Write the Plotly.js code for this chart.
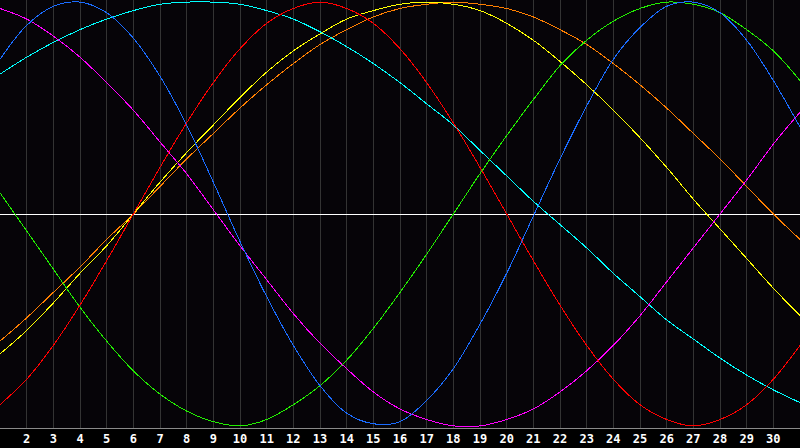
<!DOCTYPE html>
<html>
<head>
<meta charset="utf-8">
<script src="https://cdn.plot.ly/plotly-3.0.1.min.js"></script>
<style>
  html, body { margin: 0; padding: 0; background: #000; }
  #chart { width: 800px; height: 448px; }
  /* old-style 1px hard lines, no smoothing */
  #chart .gridlayer path,
  #chart .zerolinelayer path,
  #chart .shapelayer path,
  #chart .scatterlayer path { shape-rendering: crispEdges; }
</style>
</head>
<body>
<div id="chart"></div>
<script>
/**
 * Biorhythm-style cycle chart: seven cycles over one month, in percent (-100..100).
 */
var CycleChart = (function () {
  'use strict';

  var days = [1, 2, 3, 4, 5, 6, 7, 8, 9, 10, 11, 12, 13, 14, 15, 16,
    17, 18, 19, 20, 21, 22, 23, 24, 25, 26, 27, 28, 29, 30, 31];

  var tickDays = [2, 3, 4, 5, 6, 7, 8, 9, 10, 11, 12, 13, 14, 15, 16,
    17, 18, 19, 20, 21, 22, 23, 24, 25, 26, 27, 28, 29, 30];
  var tickLabels = tickDays.map(String);

  var markDay = 16;

  var red = [-90, -78, -62, -43, -22, 0, 22, 43, 62, 78, 90, 97, 100, 97, 90, 78,
    62, 43, 22, 0, -22, -43, -62, -78, -90, -97, -100, -97, -90, -78, -62];
  var green = [10, -8, -26, -44, -60, -74, -85, -93, -98, -100, -97, -90, -81, -69, -54, -37,
    -19, 0, 19, 37, 54, 70, 82, 91, 97, 100, 99, 95, 87, 77, 63];
  var blue = [73, 89, 98, 100, 95, 83, 65, 42, 15, -13, -39, -62, -81, -94, -99, -98,
    -88, -73, -52, -28, -1, 26, 51, 73, 88, 98, 100, 95, 82, 63, 41];
  var cyan = [66, 74, 81, 87, 92, 96, 99, 100, 100, 99, 96, 92, 86, 79, 71, 62,
    52, 42, 30, 18, 6, -5, -16, -28, -39, -50, -59, -68, -76, -83, -89];
  var magenta = [97, 92, 84, 74, 62, 49, 34, 19, 2, -15, -31, -47, -61, -73, -84, -92,
    -97, -100, -100, -97, -92, -84, -74, -62, -48, -32, -16, 0, 16, 33, 48];
  var yellow = [-66, -55, -42, -28, -15, 0, 15, 29, 42, 55, 67, 77, 85, 92, 96, 99,
    100, 99, 96, 90, 82, 72, 61, 49, 36, 22, 7, -7, -21, -35, -48];
  var orange = [-60, -49, -37, -25, -12, 0, 13, 26, 38, 50, 61, 71, 80, 87, 93, 97,
    99, 100, 99, 97, 93, 87, 80, 71, 61, 50, 38, 26, 13, 0, -12];

  var SERIES = [
    { values: orange, color: '#ff7f00' },
    { values: yellow, color: '#ffff00' },
    { values: cyan, color: '#00ffff' },
    { values: magenta, color: '#ff00ff' },
    { values: green, color: '#22ee00' },
    { values: red, color: '#ff0000' },
    { values: blue, color: '#1a6cff' }
  ];

  /**
   * Build one line trace for a cycle.
   * @param {Object} s - { values, color }
   * @returns {Object} Plotly scatter trace
   */
  function buildTrace(s) {
    return {
      type: 'scatter',
      mode: 'lines',
      x: days,
      y: s.values,
      line: { color: s.color, width: 1, shape: 'spline', smoothing: 1 },
      hoverinfo: 'skip',
      showlegend: false
    };
  }

  function draw(containerId) {
    var traces = SERIES.map(buildTrace);

    var layout = {
      width: 800,
      height: 448,
      margin: { t: 0, r: 0, l: 0, b: 20 },
      paper_bgcolor: '#000000',
      plot_bgcolor: '#060408',
      showlegend: false,
      xaxis: {
        range: [1, 31],
        tickmode: 'array',
        tickvals: tickDays,
        ticktext: tickLabels,
        ticks: '',
        showgrid: true,
        gridcolor: '#333333',
        gridwidth: 1,
        zeroline: false,
        showline: true,
        linecolor: '#8a8a8a',
        linewidth: 1,
        mirror: true,
        tickfont: { family: 'DejaVu Sans Mono, monospace', size: 12, color: '#ffffff', weight: 'bold' },
        fixedrange: true
      },
      yaxis: {
        range: [-101, 101],
        showticklabels: false,
        ticks: '',
        showgrid: false,
        zeroline: true,
        zerolinecolor: '#ffffff',
        zerolinewidth: 1,
        showline: true,
        linecolor: '#8a8a8a',
        linewidth: 1,
        mirror: true,
        fixedrange: true
      },
      shapes: [{
        type: 'line',
        xref: 'x',
        yref: 'paper',
        x0: markDay,
        x1: markDay,
        y0: 0,
        y1: 1,
        line: { color: '#ffffff', width: 1 },
        layer: 'below'
      }]
    };

    Plotly.newPlot(containerId, traces, layout, { displayModeBar: false, staticPlot: true });
  }

  return { draw: draw };
})();

CycleChart.draw('chart');
</script>
</body>
</html>
